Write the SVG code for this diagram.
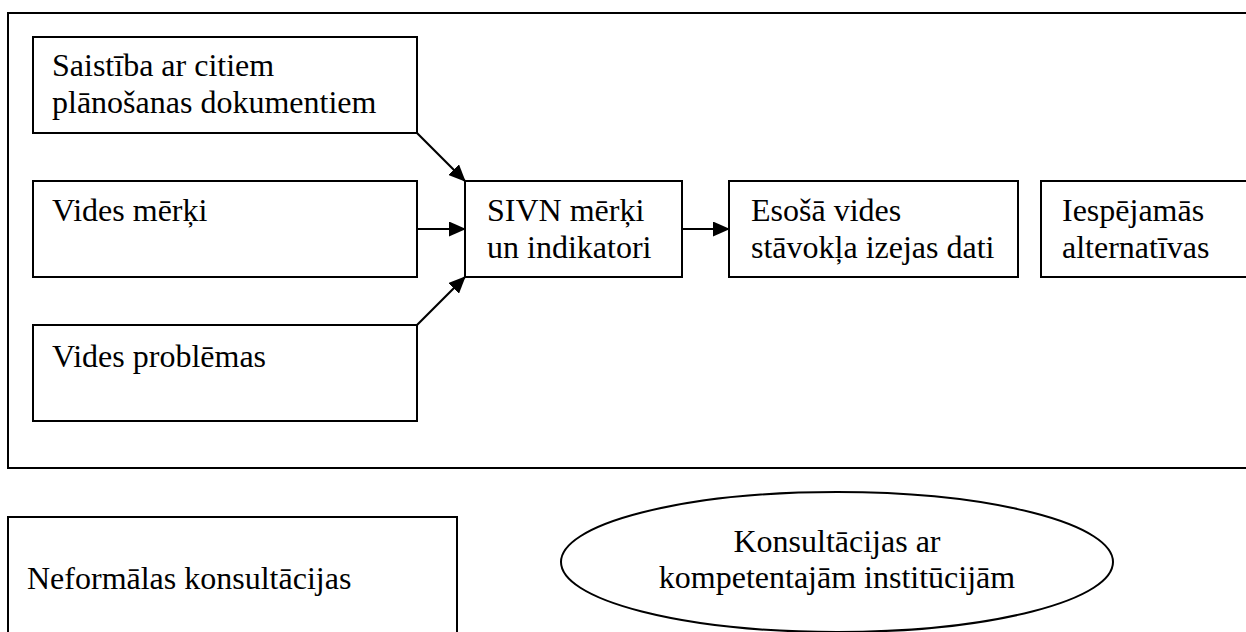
<svg xmlns="http://www.w3.org/2000/svg" width="1246" height="632" viewBox="0 0 1246 632">
<style>
.box{fill:#fff;stroke:#000;stroke-width:2}
.t{font-family:"Liberation Serif","Times New Roman",serif;font-size:32px;fill:#000}
.c{text-anchor:middle}
.conn{stroke:#000;stroke-width:2.2;fill:none;marker-end:url(#ah)}
</style>
<defs>
<marker id="ah" viewBox="0 0 17 15" refX="16" refY="7.5" markerWidth="17" markerHeight="15" markerUnits="userSpaceOnUse" orient="auto">
<path d="M0,0 L17,7.5 L0,15 z" fill="#000"/>
</marker>
</defs>
<rect width="1246" height="632" fill="#fff"/>
<g id="outer"><rect class="box" x="8" y="13" width="1250" height="455"/></g>
<g id="saistiba"><rect class="box" x="33" y="37" width="384" height="96"/>
<text class="t" x="52" y="76">Saistība ar citiem</text>
<text class="t" x="52" y="113">plānošanas dokumentiem</text></g>
<g id="vides-merki"><rect class="box" x="33" y="181" width="384" height="96"/>
<text class="t" x="52" y="221">Vides mērķi</text></g>
<g id="vides-problemas"><rect class="box" x="33" y="325" width="384" height="96"/>
<text class="t" x="52" y="367">Vides problēmas</text></g>
<g id="sivn"><rect class="box" x="465" y="181" width="217" height="96"/>
<text class="t" x="487" y="221">SIVN mērķi</text>
<text class="t" x="487" y="258">un indikatori</text></g>
<g id="esosa"><rect class="box" x="729" y="181" width="289" height="96"/>
<text class="t" x="751" y="221">Esošā vides</text>
<text class="t" x="751" y="258">stāvokļa izejas dati</text></g>
<g id="iespejamas"><rect class="box" x="1041" y="181" width="220" height="96"/>
<text class="t" x="1062" y="221">Iespējamās</text>
<text class="t" x="1062" y="258">alternatīvas</text></g>
<g id="neformalas"><rect class="box" x="8" y="517" width="449" height="130"/>
<text class="t" x="27" y="589">Neformālas konsultācijas</text></g>
<g id="konsultacijas"><ellipse class="box" cx="837" cy="562" rx="276" ry="70"/>
<text class="t c" x="837" y="552">Konsultācijas ar</text>
<text class="t c" x="837" y="588">kompetentajām institūcijām</text></g>
<g id="connectors">
<path class="conn" d="M417,133 L465,181"/>
<path class="conn" d="M417,229 L465,229"/>
<path class="conn" d="M417,325 L465,277"/>
<path class="conn" d="M682,229 L729,229"/>
</g>
</svg>
